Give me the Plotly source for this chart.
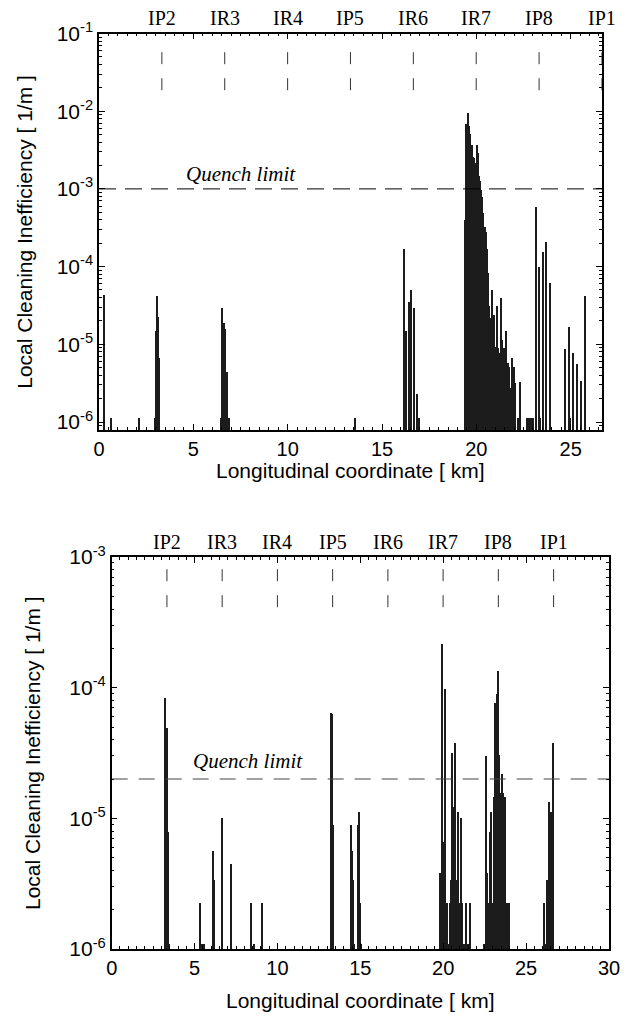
import math
import plotly.graph_objects as go

# ---------------- data ----------------
ip_labels = ["IP2", "IR3", "IR4", "IP5", "IR6", "IR7", "IP8", "IP1"]
ip_km = [3.332, 6.664, 9.997, 13.329, 16.661, 19.993, 23.325, 26.658]

top_quench = 1e-3
bot_quench = 2e-5

# upper panel: (longitudinal coordinate [km], local inefficiency [1/m])
top_km = [0.28, 0.63, 2.13,
          2.99, 3.03, 3.07, 3.12, 3.16, 3.20,
          6.49, 6.53, 6.56, 6.60, 6.63, 6.66, 6.70, 6.73, 6.76, 6.81, 6.86, 6.91,
          13.55,
          16.15, 16.28, 16.42, 16.56, 16.70, 16.84, 16.98,
          19.42, 19.47, 19.54, 19.61, 19.66, 19.72, 19.77, 19.84, 19.89, 19.95,
          20.02, 20.07, 20.12, 20.19, 20.25, 20.32, 20.37, 20.44, 20.49, 20.55,
          20.60, 20.65, 20.70, 20.75, 20.83, 20.88, 20.93, 20.99, 21.04, 21.11,
          21.16, 21.23, 21.31, 21.38, 21.45, 21.52, 21.59, 21.66, 21.73, 21.80,
          21.87, 21.98, 22.06, 22.19, 22.29,
          22.68, 22.75, 22.86, 22.94, 23.03, 23.16, 23.33, 23.38, 23.51, 23.70, 23.93,
          24.71, 24.92, 24.99, 25.13, 25.34, 25.55, 25.75]
top_val = [4.4e-5, 1.15e-6, 1.15e-6,
           1.15e-6, 1.5e-5, 4.3e-5, 2.3e-5, 6.8e-6, 1.15e-6,
           1.15e-6, 3.0e-5, 7.9e-6, 1.9e-5, 7.9e-6, 7.0e-6, 1.6e-5, 4.0e-6, 4.5e-6, 3.3e-6, 1.15e-6, 1.15e-6,
           1.15e-6,
           1.69e-4, 1.5e-5, 3.6e-5, 5.1e-5, 3.0e-5, 2.3e-6, 1.15e-6,
           4.0e-4, 7.0e-3, 9.7e-3, 6.6e-3, 5.2e-3, 1.7e-3, 3.7e-3, 2.6e-3, 2.5e-3, 2.2e-3,
           3.7e-3, 2.9e-3, 1.5e-3, 1.3e-3, 9.8e-4, 7.9e-4, 4.9e-4, 3.3e-4, 2.8e-4, 1.7e-4,
           8.3e-5, 3.2e-5, 2.2e-5, 1.4e-5, 5.0e-5, 7.8e-6, 2.4e-5, 6.3e-6, 9.3e-6, 3.2e-5,
           9.1e-6, 7.8e-6, 4.0e-5, 1.15e-5, 9.1e-6, 7.1e-6, 1.5e-5, 5.8e-6, 5.2e-6, 2.8e-6,
           6.8e-6, 5.2e-6, 3.2e-6, 1.15e-6, 3.3e-6,
           1.15e-6, 1.15e-6, 1.15e-6, 1.15e-6, 1.15e-6, 5.9e-4, 1.0e-4, 1.15e-6, 1.55e-4, 2.1e-4, 6.3e-5,
           8.9e-6, 1.7e-5, 1.15e-6, 7.9e-6, 5.6e-6, 3.4e-6, 4.2e-5]

# lower panel
bot_km = [3.20, 3.24, 3.30, 3.36, 3.42,
          5.29, 5.37, 5.47, 5.55, 6.07, 6.15, 6.64, 7.20, 8.41, 8.55, 9.07,
          13.19, 13.25, 13.34,
          14.42, 14.46, 14.52, 14.58, 14.86, 14.90, 14.97, 15.03,
          19.77, 19.83, 19.89, 19.93, 19.99, 20.07, 20.13, 20.22, 20.30, 20.38,
          20.42, 20.50, 20.54, 20.62, 20.70, 20.76, 20.86, 20.94, 21.06, 21.14,
          21.24, 21.38, 21.48, 21.58,
          22.43, 22.51, 22.57, 22.65, 22.73, 22.79, 22.85, 22.91, 22.99, 23.05,
          23.13, 23.21, 23.27, 23.36, 23.43, 23.51, 23.60, 23.68, 23.80, 23.96,
          26.05, 26.21, 26.25, 26.37, 26.47, 26.53, 26.61]
bot_val = [8.4e-5, 5.65e-6, 4.9e-5, 7.8e-6, 1.1e-6,
           2.24e-6, 1.1e-6, 1.1e-6, 1.1e-6, 5.6e-6, 3.37e-6, 1.0e-5, 4.47e-6, 2.24e-6, 1.1e-6, 2.24e-6,
           6.36e-5, 6.3e-5, 8.9e-6,
           8.9e-6, 5.6e-6, 3.37e-6, 1.1e-6, 8.9e-6, 1.11e-5, 2.24e-6, 1.1e-6,
           3.8e-6, 2.24e-6, 2.16e-4, 1.0e-5, 6.6e-6, 9.7e-5, 2.24e-6, 2.24e-6, 1.1e-6, 2.24e-6,
           3.37e-6, 3.14e-5, 2.1e-5, 1.23e-5, 3.79e-5, 3.37e-6, 1.11e-5, 2.24e-6, 1.0e-5, 2.24e-6,
           1.1e-6, 2.24e-6, 1.1e-6, 2.24e-6,
           1.1e-6, 1.1e-6, 3.0e-5, 3.8e-6, 2.24e-6, 7.9e-6, 1.11e-5, 2.24e-6, 2.24e-6, 1.46e-5,
           7.6e-5, 9.0e-5, 1.35e-4, 3.07e-5, 1.55e-5, 2.2e-5, 1.55e-5, 1.46e-5, 2.24e-6, 2.24e-6,
           2.24e-6, 1.1e-6, 3.37e-6, 1.34e-5, 1.12e-5, 2.3e-6, 3.75e-5]

top_xticks = [0, 5, 10, 15, 20, 25]
bot_xticks = [0, 5, 10, 15, 20, 25, 30]
top_yexp = [-6, -5, -4, -3, -2, -1]
bot_yexp = [-6, -5, -4, -3]

# ---------------- styling ----------------
SANS = "Liberation Sans, Arial, Helvetica, sans-serif"
SERIF = "Liberation Serif, Times New Roman, serif"
W, H = 632, 1023

top_dom_x = [99 / W, 602 / W]
top_dom_y = [1 - 430 / H, 1 - 33.5 / H]
bot_dom_x = [111.7 / W, 609 / W]
bot_dom_y = [1 - 949 / H, 1 - 557 / H]

fig = go.Figure()
fig.add_trace(go.Bar(x=top_km, y=top_val, width=0.055, xaxis="x", yaxis="y",
                     marker=dict(color="#1c1c1c", line=dict(width=0)), showlegend=False))
fig.add_trace(go.Bar(x=bot_km, y=bot_val, width=0.06, xaxis="x2", yaxis="y2",
                     marker=dict(color="#1c1c1c", line=dict(width=0)), showlegend=False))


def xax(dom, anchor, rng, ticks):
    return dict(domain=dom, anchor=anchor, range=rng, tickmode="array", tickvals=ticks,
                automargin=False,
                ticks="inside", ticklen=6, tickwidth=1, tickcolor="black",
                mirror="ticks", showline=True, linecolor="black", linewidth=1.5,
                showgrid=False, zeroline=False,
                tickfont=dict(family=SANS, size=20, color="black"),
                minor=dict(dtick=0.5, ticks="inside", ticklen=3, tickcolor="black", showgrid=False))


def yax(dom, anchor, rng, exps):
    minor_vals = [m * 10.0 ** e for e in range(exps[0] - 1, exps[-1] + 1) for m in range(2, 10)]
    return dict(domain=dom, anchor=anchor, type="log", range=rng, tickmode="array",
                automargin=False,
                tickvals=[10.0 ** e for e in exps],
                ticktext=["10<sup>%d</sup>" % e for e in exps],
                ticks="inside", ticklen=6, tickwidth=1, tickcolor="black",
                mirror="ticks", showline=True, linecolor="black", linewidth=1.5,
                showgrid=False, zeroline=False,
                tickfont=dict(family=SANS, size=21, color="black"),
                minor=dict(tickmode="array", tickvals=minor_vals, ticks="inside",
                           ticklen=3, tickcolor="black", showgrid=False))


fig.update_layout(
    width=W, height=H, margin=dict(l=0, r=0, t=0, b=0, pad=0), autosize=False,
    paper_bgcolor="white", plot_bgcolor="white", bargap=0,
    xaxis=xax(top_dom_x, "y", [0, 26.66], top_xticks),
    yaxis=yax(top_dom_y, "x", [-6.103, -1], top_yexp),
    xaxis2=xax(bot_dom_x, "y2", [0, 30], bot_xticks),
    yaxis2=yax(bot_dom_y, "x2", [-6, -3], bot_yexp),
)

shapes = []
annotations = []
# quench limits
shapes.append(dict(type="line", xref="x domain", yref="y", x0=0, x1=1, y0=top_quench, y1=top_quench,
                   line=dict(color="black", width=1, dash="17px,9px")))
shapes.append(dict(type="line", xref="x2 domain", yref="y2", x0=0, x1=1, y0=bot_quench, y1=bot_quench,
                   line=dict(color="#444", width=1, dash="16px,11px")))
annotations.append(dict(xref="x", yref="y", x=7.5, y=math.log10(top_quench), yanchor="bottom", yshift=1,
                        text="<i>Quench limit</i>", showarrow=False,
                        font=dict(family=SERIF, size=21, color="black")))
annotations.append(dict(xref="x2", yref="y2", x=8.2, y=math.log10(bot_quench), yanchor="bottom", yshift=4,
                        text="<i>Quench limit</i>", showarrow=False,
                        font=dict(family=SERIF, size=21, color="black")))

# IP markers and labels
for lab, pos in zip(ip_labels, ip_km):
    for xr, yr, y0, y1 in (("x", "y domain", 0.857, 0.963), ("x2", "y2 domain", 0.872, 0.969)):
        shapes.append(dict(type="line", xref=xr, yref=yr, x0=pos, x1=pos, y0=y0, y1=y1,
                           line=dict(color="#333", width=1, dash="12px,14px")))
        annotations.append(dict(xref=xr, yref=yr, x=pos, y=1, yanchor="middle", yshift=15,
                                text=lab, showarrow=False,
                                font=dict(family=SERIF, size=20, color="black")))

# axis titles
for xc, yc in ((25 / W, 1 - 231.75 / H), (32 / W, 1 - 753 / H)):
    annotations.append(dict(xref="paper", yref="paper", x=xc, y=yc, textangle=-90,
                            text="Local Cleaning Inefficiency [ 1/m ]", showarrow=False,
                            xanchor="center", yanchor="middle",
                            font=dict(family=SANS, size=21, color="black")))
for xc, yc in ((350.5 / W, 1 - 470 / H), (360 / W, 1 - 1000 / H)):
    annotations.append(dict(xref="paper", yref="paper", x=xc, y=yc,
                            text="Longitudinal coordinate [ km]", showarrow=False,
                            xanchor="center", yanchor="middle",
                            font=dict(family=SANS, size=21, color="black")))

fig.update_layout(shapes=shapes, annotations=annotations)
fig.write_html("out.html", config={"displayModeBar": False},
               post_script="document.body.style.margin='0px';document.body.style.overflow='hidden';")
